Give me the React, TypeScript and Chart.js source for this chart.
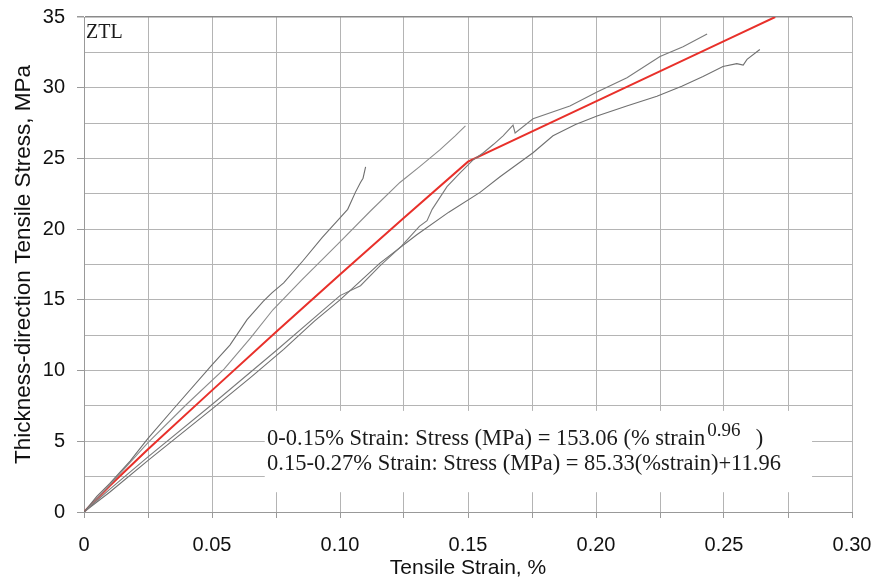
import React, { useEffect, useRef } from 'react';
import { Chart, registerables } from 'chart.js';

Chart.register(...registerables);

// Tick labels
const xTickLabels = ['0', '0.05', '0.10', '0.15', '0.20', '0.25', '0.30'];
const yTickLabels = ['0', '5', '10', '15', '20', '25', '30', '35'];

// Fitted (red) curve: [strain %, stress MPa]
const fitCurve: number[][] = [
  [0, 0], [0.01, 1.84], [0.025, 4.44], [0.05, 8.6], [0.075, 12.73], [0.1, 16.8],
  [0.125, 20.8], [0.15, 24.77], [0.2, 29.03], [0.25, 33.29], [0.27, 35.0],
];

// Measured specimen curves (grey)
const specimenA: number[][] = [
  [0, 0], [0.005, 1.1], [0.01, 2.0], [0.018, 3.6], [0.025, 5.2], [0.035, 7.3],
  [0.05, 10.4], [0.057, 11.8], [0.0637, 13.6], [0.07, 14.9], [0.0734, 15.5],
  [0.078, 16.2], [0.0857, 17.8], [0.093, 19.4], [0.1, 20.8], [0.103, 21.4],
  [0.106, 22.6], [0.108, 23.3], [0.109, 23.6], [0.11, 24.4],
];
const specimenB: number[][] = [
  [0, 0], [0.01, 1.9], [0.025, 4.9], [0.04, 7.6], [0.0547, 10.1], [0.065, 12.3],
  [0.0738, 14.3], [0.085, 16.4], [0.1, 19.1], [0.112, 21.3], [0.1234, 23.3],
  [0.131, 24.4], [0.139, 25.6], [0.145, 26.6], [0.149, 27.3],
];
const specimenC: number[][] = [
  [0, 0], [0.01, 1.6], [0.025, 3.9], [0.05, 7.6], [0.075, 11.4], [0.1, 15.3],
  [0.108, 16.0], [0.1156, 17.4], [0.124, 18.8], [0.131, 20.2], [0.134, 20.6],
  [0.136, 21.4], [0.1418, 23.0], [0.147, 24.0], [0.152, 24.9], [0.156, 25.4],
  [0.16, 26.0], [0.1637, 26.6], [0.1676, 27.35], [0.1684, 26.8], [0.1754, 27.8],
  [0.1898, 28.7], [0.2004, 29.7], [0.2121, 30.7], [0.225, 32.2], [0.234, 32.9],
  [0.2434, 33.8],
];
const specimenD: number[][] = [
  [0, 0], [0.01, 1.4], [0.0254, 3.7], [0.0508, 7.4], [0.065, 9.5], [0.078, 11.5],
  [0.09, 13.5], [0.1, 15.0], [0.1156, 17.6], [0.13, 19.6], [0.1425, 21.2],
  [0.1547, 22.6], [0.1625, 23.7], [0.1754, 25.4], [0.1832, 26.6], [0.192, 27.4],
  [0.2004, 28.0], [0.212, 28.7], [0.2238, 29.4], [0.2335, 30.1], [0.2418, 30.8],
  [0.2496, 31.5], [0.255, 31.7], [0.2575, 31.6], [0.259, 32.0], [0.264, 32.7],
];

const eqLine1 = '0-0.15% Strain: Stress (MPa) = 153.06 (% strain';
const eqExponent = '0.96';
const eqClose = '  )';
const eqLine2 = '0.15-0.27% Strain: Stress (MPa) = 85.33(%strain)+11.96';
const panelLabel = 'ZTL';

const toPts = (arr: number[][]) => arr.map(([x, y]) => ({ x, y }));

const zeroPad = (s: any) => {
  s.paddingTop = 0;
  s.paddingBottom = 0;
  s.paddingLeft = 0;
  s.paddingRight = 0;
};

export default function App() {
  const ref = useRef<HTMLCanvasElement>(null);

  useEffect(() => {
    if (!ref.current) return;
    const annot = {
      id: 'annot',
      beforeDatasetsDraw(chart: any) {
        const { ctx, scales } = chart;
        const xs = scales.x, ys = scales.y;
        const x0 = xs.getPixelForValue(0.0706);
        const x1 = xs.getPixelForValue(0.2844);
        const y0 = ys.getPixelForValue(7.15);
        const y1 = ys.getPixelForValue(1.4);
        ctx.save();
        ctx.fillStyle = '#ffffff';
        ctx.fillRect(x0, y0, x1 - x0, y1 - y0);
        ctx.restore();
      },
      afterDatasetsDraw(chart: any) {
        const { ctx, scales, chartArea } = chart;
        const xs = scales.x, ys = scales.y;
        ctx.save();
        ctx.fillStyle = '#1a1a1a';
        ctx.textBaseline = 'alphabetic';
        ctx.textAlign = 'left';
        ctx.font = '20px "Liberation Serif"';
        ctx.fillText(panelLabel, chartArea.left + 2, chartArea.top + 21);

        const tx = xs.getPixelForValue(0.0715);
        const b1 = ys.getPixelForValue(4.75);
        const b2 = ys.getPixelForValue(2.97);
        ctx.font = '22.5px "Liberation Serif"';
        ctx.fillText(eqLine1, tx, b1);
        const w = ctx.measureText(eqLine1).width;
        ctx.font = '19px "Liberation Serif"';
        ctx.fillText(eqExponent, tx + w + 2, b1 - 9);
        const we = ctx.measureText(eqExponent).width;
        ctx.font = '22.5px "Liberation Serif"';
        ctx.fillText(eqClose, tx + w + 6 + we, b1);
        ctx.fillText(eqLine2, tx, b2);
        ctx.restore();
      },
    };

    const gray = (data: number[][], color: string) => ({
      data: toPts(data),
      showLine: true,
      borderColor: color,
      borderWidth: 1.1,
      pointRadius: 0,
      tension: 0,
    });

    const chart = new Chart(ref.current, {
      type: 'scatter',
      data: {
        datasets: [
          gray(specimenA, '#6e6e6e'),
          gray(specimenB, '#8c8c8c'),
          gray(specimenC, '#7a7a7a'),
          gray(specimenD, '#707070'),
          {
            data: toPts(fitCurve),
            showLine: true,
            borderColor: '#e8302a',
            borderWidth: 2,
            pointRadius: 0,
            tension: 0,
          },
        ],
      },
      options: {
        animation: false,
        responsive: false,
        layout: { padding: { left: 0, top: 17, right: 23, bottom: 0 } },
        plugins: { legend: { display: false }, tooltip: { enabled: false } },
        scales: {
          x: {
            type: 'linear',
            min: 0,
            max: 0.3,
            ticks: {
              stepSize: 0.025,
              autoSkip: false,
              maxRotation: 0,
              padding: 15,
              color: '#111',
              font: { family: 'Liberation Sans', size: 20 },
              callback: (_v: any, i: number) => (i % 2 === 0 ? xTickLabels[i / 2] : ''),
            },
            grid: { color: '#b4b4b4', lineWidth: 1, tickLength: 6, tickColor: '#9a9a9a' },
            border: { color: '#999999', width: 1 },
            title: {
              display: true,
              text: 'Tensile Strain, %',
              color: '#111',
              font: { family: 'Liberation Sans', size: 21 },
              padding: { top: 0, bottom: 3 },
            },
            afterFit: (s: any) => { s.height = 72; zeroPad(s); },
          },
          y: {
            type: 'linear',
            min: 0,
            max: 35,
            ticks: {
              stepSize: 2.5,
              autoSkip: false,
              padding: 12,
              color: '#111',
              font: { family: 'Liberation Sans', size: 20 },
              callback: (_v: any, i: number) => (i % 2 === 0 ? yTickLabels[i / 2] : ''),
            },
            grid: {
              color: (c: any) => (c.index === 14 ? '#8a8a8a' : '#b4b4b4'),
              lineWidth: (c: any) => (c.index === 14 ? 1.5 : 1),
              tickLength: 7,
              tickColor: (c: any) => (c.index % 2 === 0 ? '#9a9a9a' : 'rgba(0,0,0,0)'),
            },
            border: { color: '#999999', width: 1 },
            title: {
              display: true,
              text: 'Thickness-direction Tensile Stress, MPa',
              color: '#111',
              font: { family: 'Liberation Sans', size: 22.5 },
              padding: { top: 10, bottom: 0 },
            },
            afterFit: (s: any) => { s.width = 84; zeroPad(s); },
          },
        },
      },
      plugins: [annot],
    } as any);
    return () => chart.destroy();
  }, []);

  return (
    <div style={{ position: 'fixed', left: 0, top: 0, width: 875, height: 584, background: '#fff' }}>
      <canvas ref={ref} width={875} height={584} style={{ width: 875, height: 584, display: 'block' }} />
    </div>
  );
}
